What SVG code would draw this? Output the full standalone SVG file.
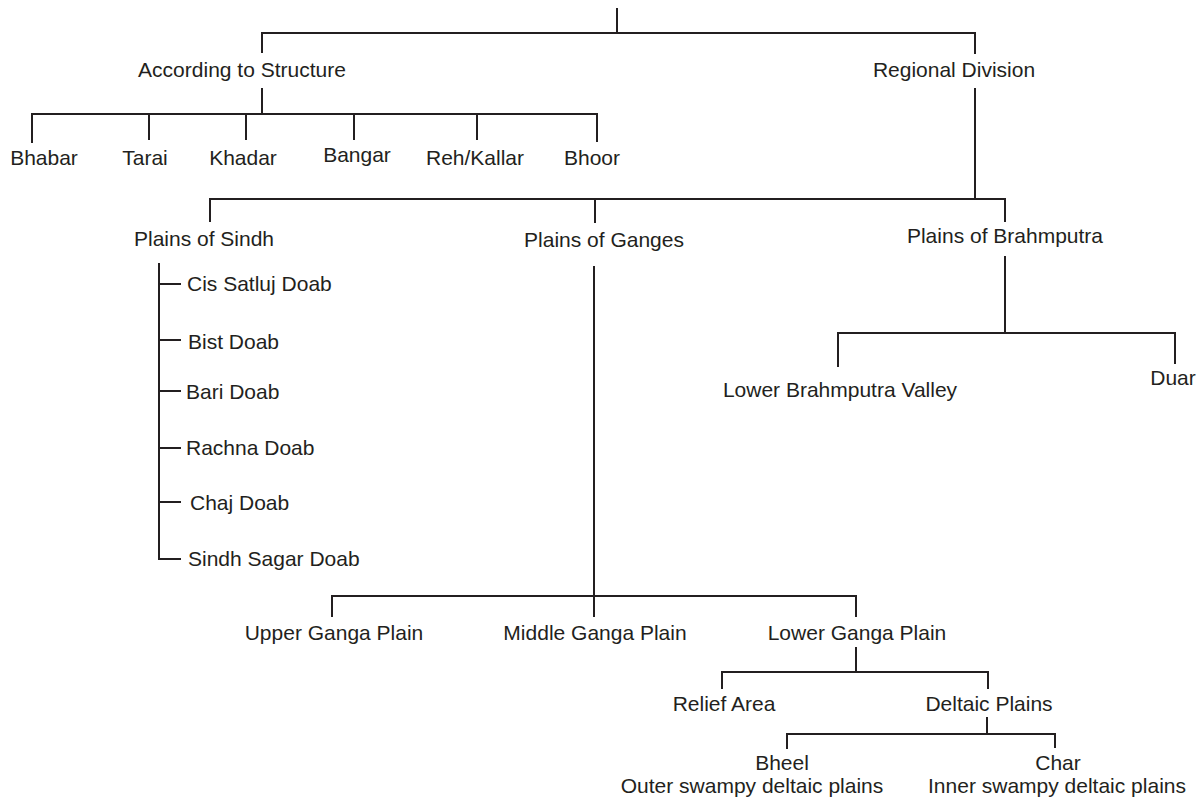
<svg xmlns="http://www.w3.org/2000/svg" width="1202" height="799" viewBox="0 0 1202 799">
<style>
text{font-family:"Liberation Sans",Arial,sans-serif;font-size:21px;fill:#231f20}
.m{text-anchor:middle}
.s{text-anchor:start}
#connectors path{fill:none;stroke:#231f20;stroke-width:2}
</style>
<rect width="1202" height="799" fill="#fff"/>
<g id="connectors">
<path d="M617 8V33M262 53V33H975V54"/>
<path d="M262 88V114M32 143V114H597V142M149 114V140M246 114V140M354 114V140M477 114V140"/>
<path d="M975 88V199M210 222V199H1005V222M595 199V223"/>
<path d="M159 263V559H181M159 284H181M159 340H181M159 391H181M159 448H181M159 502H181"/>
<path d="M594 266V617M332 617V596H856V617"/>
<path d="M1005 256V333M838 367V333H1175V364"/>
<path d="M856 647V672M722 689V672H988V689"/>
<path d="M987 717V734M787 749V734H1055V748"/>
</g>
<g id="n-structure"><text class="m" x="242" y="77">According to Structure</text></g>
<g id="n-regional"><text class="m" x="954" y="77">Regional Division</text></g>
<g id="n-bhabar"><text class="m" x="44" y="165">Bhabar</text></g>
<g id="n-tarai"><text class="m" x="145" y="165">Tarai</text></g>
<g id="n-khadar"><text class="m" x="243" y="165">Khadar</text></g>
<g id="n-bangar"><text class="m" x="357" y="162">Bangar</text></g>
<g id="n-reh"><text class="m" x="475" y="165">Reh/Kallar</text></g>
<g id="n-bhoor"><text class="m" x="592" y="165">Bhoor</text></g>
<g id="n-sindh"><text class="m" x="204" y="246">Plains of Sindh</text></g>
<g id="n-ganges"><text class="m" x="604" y="247">Plains of Ganges</text></g>
<g id="n-brahmputra"><text class="m" x="1005" y="243">Plains of Brahmputra</text></g>
<g id="n-cis"><text class="s" x="187" y="291">Cis Satluj Doab</text></g>
<g id="n-bist"><text class="s" x="188" y="349">Bist Doab</text></g>
<g id="n-bari"><text class="s" x="186" y="399">Bari Doab</text></g>
<g id="n-rachna"><text class="s" x="186" y="455">Rachna Doab</text></g>
<g id="n-chaj"><text class="s" x="190" y="510">Chaj Doab</text></g>
<g id="n-sindhsagar"><text class="s" x="188" y="566">Sindh Sagar Doab</text></g>
<g id="n-lowerbrahm"><text class="m" x="840" y="397">Lower Brahmputra Valley</text></g>
<g id="n-duar"><text class="m" x="1173" y="385">Duar</text></g>
<g id="n-upper"><text class="m" x="334" y="640">Upper Ganga Plain</text></g>
<g id="n-middle"><text class="m" x="595" y="640">Middle Ganga Plain</text></g>
<g id="n-lower"><text class="m" x="857" y="640">Lower Ganga Plain</text></g>
<g id="n-relief"><text class="m" x="724" y="711">Relief Area</text></g>
<g id="n-deltaic"><text class="m" x="989" y="711">Deltaic Plains</text></g>
<g id="n-bheel"><text class="m" x="782" y="770">Bheel</text><text class="m" x="752" y="793">Outer swampy deltaic plains</text></g>
<g id="n-char"><text class="m" x="1058" y="770">Char</text><text class="m" x="1057" y="793">Inner swampy deltaic plains</text></g>
</svg>
